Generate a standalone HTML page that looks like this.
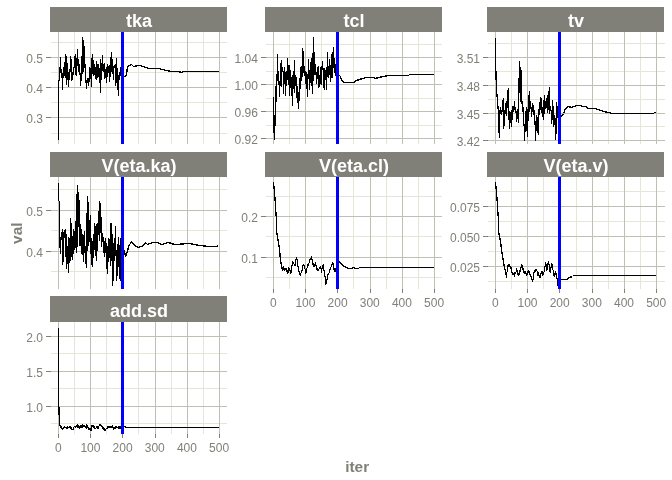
<!DOCTYPE html>
<html><head><meta charset="utf-8"><title>traceplot</title>
<style>html,body{margin:0;padding:0;background:#fff;overflow:hidden}</style></head>
<body>
<svg width="672" height="480" viewBox="0 0 672 480" style="display:block">
<rect width="672" height="480" fill="#fff"/>
<g shape-rendering="crispEdges">
<rect x="50" y="7" width="177" height="25.00" fill="#808078"/>
<line x1="50.50" x2="227.40" y1="133.50" y2="133.50" stroke="#E6E6D8" stroke-width="1"/>
<line x1="50.50" x2="227.40" y1="102.50" y2="102.50" stroke="#E6E6D8" stroke-width="1"/>
<line x1="50.50" x2="227.40" y1="72.50" y2="72.50" stroke="#E6E6D8" stroke-width="1"/>
<line x1="50.50" x2="227.40" y1="42.50" y2="42.50" stroke="#E6E6D8" stroke-width="1"/>
<line x1="74.50" x2="74.50" y1="32.00" y2="144.00" stroke="#E6E6D8" stroke-width="1"/>
<line x1="106.50" x2="106.50" y1="32.00" y2="144.00" stroke="#E6E6D8" stroke-width="1"/>
<line x1="138.50" x2="138.50" y1="32.00" y2="144.00" stroke="#E6E6D8" stroke-width="1"/>
<line x1="171.50" x2="171.50" y1="32.00" y2="144.00" stroke="#E6E6D8" stroke-width="1"/>
<line x1="203.50" x2="203.50" y1="32.00" y2="144.00" stroke="#E6E6D8" stroke-width="1"/>
<line x1="50.50" x2="227.40" y1="117.50" y2="117.50" stroke="#BFBFB4" stroke-width="1"/>
<line x1="50.50" x2="227.40" y1="87.50" y2="87.50" stroke="#BFBFB4" stroke-width="1"/>
<line x1="50.50" x2="227.40" y1="57.50" y2="57.50" stroke="#BFBFB4" stroke-width="1"/>
<line x1="58.50" x2="58.50" y1="32.00" y2="144.00" stroke="#BFBFB4" stroke-width="1"/>
<line x1="90.50" x2="90.50" y1="32.00" y2="144.00" stroke="#BFBFB4" stroke-width="1"/>
<line x1="122.50" x2="122.50" y1="32.00" y2="144.00" stroke="#BFBFB4" stroke-width="1"/>
<line x1="155.50" x2="155.50" y1="32.00" y2="144.00" stroke="#BFBFB4" stroke-width="1"/>
<line x1="187.50" x2="187.50" y1="32.00" y2="144.00" stroke="#BFBFB4" stroke-width="1"/>
<line x1="219.50" x2="219.50" y1="32.00" y2="144.00" stroke="#BFBFB4" stroke-width="1"/>
<line x1="46.00" x2="50.50" y1="117.50" y2="117.50" stroke="#808078" stroke-width="1"/>
<line x1="46.00" x2="50.50" y1="87.50" y2="87.50" stroke="#808078" stroke-width="1"/>
<line x1="46.00" x2="50.50" y1="57.50" y2="57.50" stroke="#808078" stroke-width="1"/>
<polyline points="58.5,139.5 58.5,80.5 59.5,80.5 59.5,73.5 60.5,63.5 60.5,57.5 60.5,64.5 61.5,77.5 61.5,71.5 61.5,70.5 62.5,77.5 62.5,89.5 62.5,80.5 63.5,74.5 63.5,67.5 63.5,76.5 64.5,62.5 64.5,66.5 64.5,72.5 64.5,75.5 65.5,65.5 65.5,54.5 65.5,66.5 66.5,84.5 66.5,56.5 66.5,61.5 67.5,66.5 67.5,79.5 67.5,69.5 68.5,77.5 68.5,86.5 68.5,82.5 69.5,76.5 69.5,70.5 69.5,75.5 70.5,66.5 70.5,56.5 70.5,58.5 71.5,61.5 71.5,60.5 71.5,80.5 72.5,77.5 72.5,75.5 72.5,72.5 73.5,74.5 73.5,71.5 73.5,68.5 74.5,66.5 74.5,61.5 74.5,58.5 75.5,54.5 75.5,74.5 75.5,65.5 76.5,59.5 76.5,66.5 76.5,75.5 77.5,49.5 77.5,57.5 77.5,59.5 78.5,59.5 78.5,71.5 78.5,68.5 79.5,67.5 79.5,64.5 79.5,74.5 80.5,73.5 80.5,81.5 80.5,85.5 81.5,72.5 81.5,56.5 81.5,68.5 82.5,73.5 82.5,50.5 82.5,37.5 82.5,51.5 83.5,71.5 83.5,40.5 83.5,45.5 84.5,48.5 84.5,58.5 84.5,60.5 85.5,71.5 85.5,77.5 85.5,81.5 86.5,83.5 86.5,88.5 86.5,83.5 87.5,78.5 87.5,81.5 87.5,82.5 88.5,83.5 88.5,85.5 88.5,82.5 89.5,76.5 89.5,67.5 89.5,81.5 90.5,75.5 90.5,73.5 90.5,74.5 91.5,65.5 91.5,86.5 91.5,79.5 91.5,66.5 92.5,54.5 92.5,73.5 92.5,68.5 93.5,65.5 93.5,60.5 93.5,75.5 94.5,74.5 94.5,69.5 94.5,64.5 95.5,70.5 95.5,71.5 95.5,76.5 96.5,79.5 96.5,61.5 96.5,63.5 97.5,64.5 97.5,65.5 97.5,77.5 98.5,75.5 98.5,66.5 98.5,64.5 99.5,73.5 99.5,82.5 99.5,75.5 100.5,65.5 100.5,59.5 100.5,92.5 100.5,77.5 101.5,65.5 101.5,74.5 101.5,79.5 102.5,55.5 102.5,63.5 103.5,65.5 103.5,71.5 103.5,69.5 104.5,64.5 104.5,63.5 104.5,78.5 105.5,76.5 105.5,69.5 105.5,74.5 106.5,78.5 106.5,82.5 106.5,71.5 107.5,64.5 107.5,70.5 107.5,76.5 108.5,67.5 108.5,66.5 109.5,65.5 109.5,81.5 109.5,75.5 110.5,68.5 110.5,61.5 110.5,76.5 110.5,65.5 111.5,52.5 111.5,57.5 111.5,69.5 112.5,73.5 112.5,59.5 112.5,64.5 113.5,69.5 113.5,79.5 113.5,68.5 114.5,67.5 114.5,66.5 114.5,65.5 115.5,64.5 115.5,85.5 115.5,75.5 116.5,68.5 116.5,58.5 116.5,70.5 117.5,89.5 117.5,68.5 117.5,77.5 118.5,89.5 118.5,95.5 118.5,75.5 119.5,78.5 119.5,79.5 119.5,72.5 119.5,74.5 120.5,75.5 120.5,67.5 120.5,69.5 121.5,70.5 121.5,72.5 121.5,74.5 122.5,75.5 122.5,76.5 124.5,76.5 126.5,75.5 127.5,66.5 131.5,64.5 133.5,66.5 139.5,65.5 143.5,66.5 148.5,68.5 158.5,68.5 166.5,70.5 171.5,71.5 178.5,71.5 181.5,72.5 183.5,71.5 218.5,71.5" fill="none" stroke="#000" stroke-width="1.3" stroke-linejoin="round"/>
<line x1="122.50" x2="122.50" y1="32.00" y2="144.00" stroke="#0000FF" stroke-width="3"/>
</g>
<text x="138.95" y="27.10" text-anchor="middle" font-family="Liberation Sans, Arial, sans-serif" font-weight="bold" font-size="18" fill="#fff">tka</text>
<text x="42.90" y="122.50" text-anchor="end" font-family="Liberation Sans, Arial, sans-serif" font-size="12" fill="#808078">0.3</text>
<text x="42.90" y="92.50" text-anchor="end" font-family="Liberation Sans, Arial, sans-serif" font-size="12" fill="#808078">0.4</text>
<text x="42.90" y="62.50" text-anchor="end" font-family="Liberation Sans, Arial, sans-serif" font-size="12" fill="#808078">0.5</text>
<g shape-rendering="crispEdges">
<rect x="265" y="7" width="177" height="25.00" fill="#808078"/>
<line x1="265.50" x2="442.40" y1="125.50" y2="125.50" stroke="#E6E6D8" stroke-width="1"/>
<line x1="265.50" x2="442.40" y1="98.50" y2="98.50" stroke="#E6E6D8" stroke-width="1"/>
<line x1="265.50" x2="442.40" y1="71.50" y2="71.50" stroke="#E6E6D8" stroke-width="1"/>
<line x1="265.50" x2="442.40" y1="44.50" y2="44.50" stroke="#E6E6D8" stroke-width="1"/>
<line x1="289.50" x2="289.50" y1="32.00" y2="144.00" stroke="#E6E6D8" stroke-width="1"/>
<line x1="321.50" x2="321.50" y1="32.00" y2="144.00" stroke="#E6E6D8" stroke-width="1"/>
<line x1="353.50" x2="353.50" y1="32.00" y2="144.00" stroke="#E6E6D8" stroke-width="1"/>
<line x1="386.50" x2="386.50" y1="32.00" y2="144.00" stroke="#E6E6D8" stroke-width="1"/>
<line x1="418.50" x2="418.50" y1="32.00" y2="144.00" stroke="#E6E6D8" stroke-width="1"/>
<line x1="265.50" x2="442.40" y1="138.50" y2="138.50" stroke="#BFBFB4" stroke-width="1"/>
<line x1="265.50" x2="442.40" y1="111.50" y2="111.50" stroke="#BFBFB4" stroke-width="1"/>
<line x1="265.50" x2="442.40" y1="84.50" y2="84.50" stroke="#BFBFB4" stroke-width="1"/>
<line x1="265.50" x2="442.40" y1="57.50" y2="57.50" stroke="#BFBFB4" stroke-width="1"/>
<line x1="273.50" x2="273.50" y1="32.00" y2="144.00" stroke="#BFBFB4" stroke-width="1"/>
<line x1="305.50" x2="305.50" y1="32.00" y2="144.00" stroke="#BFBFB4" stroke-width="1"/>
<line x1="337.50" x2="337.50" y1="32.00" y2="144.00" stroke="#BFBFB4" stroke-width="1"/>
<line x1="370.50" x2="370.50" y1="32.00" y2="144.00" stroke="#BFBFB4" stroke-width="1"/>
<line x1="402.50" x2="402.50" y1="32.00" y2="144.00" stroke="#BFBFB4" stroke-width="1"/>
<line x1="434.50" x2="434.50" y1="32.00" y2="144.00" stroke="#BFBFB4" stroke-width="1"/>
<line x1="261.00" x2="265.50" y1="138.50" y2="138.50" stroke="#808078" stroke-width="1"/>
<line x1="261.00" x2="265.50" y1="111.50" y2="111.50" stroke="#808078" stroke-width="1"/>
<line x1="261.00" x2="265.50" y1="84.50" y2="84.50" stroke="#808078" stroke-width="1"/>
<line x1="261.00" x2="265.50" y1="57.50" y2="57.50" stroke="#808078" stroke-width="1"/>
<polyline points="273.5,96.5 273.5,118.5 274.5,139.5 275.5,102.5 275.5,86.5 276.5,101.5 276.5,88.5 276.5,82.5 277.5,69.5 277.5,54.5 277.5,80.5 278.5,72.5 278.5,71.5 278.5,77.5 279.5,88.5 279.5,96.5 279.5,89.5 279.5,81.5 280.5,85.5 280.5,71.5 280.5,67.5 281.5,60.5 281.5,86.5 281.5,74.5 282.5,67.5 282.5,68.5 282.5,70.5 283.5,71.5 283.5,93.5 283.5,86.5 284.5,78.5 284.5,67.5 284.5,75.5 285.5,72.5 285.5,95.5 285.5,90.5 286.5,77.5 286.5,71.5 286.5,85.5 287.5,70.5 287.5,58.5 287.5,68.5 288.5,84.5 288.5,65.5 288.5,66.5 288.5,71.5 289.5,65.5 289.5,95.5 289.5,89.5 290.5,73.5 290.5,70.5 290.5,87.5 291.5,81.5 291.5,78.5 291.5,77.5 292.5,105.5 292.5,95.5 292.5,82.5 293.5,71.5 293.5,88.5 293.5,79.5 294.5,75.5 294.5,60.5 294.5,92.5 295.5,75.5 295.5,76.5 295.5,77.5 296.5,81.5 296.5,77.5 296.5,97.5 297.5,94.5 297.5,88.5 297.5,86.5 297.5,92.5 298.5,108.5 298.5,99.5 298.5,92.5 299.5,92.5 299.5,86.5 299.5,100.5 300.5,67.5 300.5,86.5 300.5,82.5 301.5,78.5 301.5,71.5 301.5,66.5 302.5,76.5 302.5,48.5 302.5,50.5 303.5,51.5 303.5,52.5 303.5,68.5 304.5,75.5 304.5,66.5 304.5,70.5 305.5,72.5 305.5,74.5 305.5,80.5 306.5,85.5 306.5,82.5 306.5,76.5 306.5,72.5 307.5,96.5 307.5,82.5 307.5,77.5 308.5,72.5 308.5,66.5 308.5,59.5 309.5,89.5 309.5,85.5 309.5,84.5 310.5,80.5 310.5,69.5 311.5,58.5 311.5,66.5 311.5,76.5 312.5,90.5 312.5,93.5 312.5,55.5 313.5,52.5 313.5,37.5 313.5,80.5 314.5,64.5 314.5,52.5 314.5,62.5 315.5,67.5 315.5,74.5 315.5,73.5 316.5,72.5 316.5,78.5 316.5,83.5 317.5,71.5 317.5,70.5 317.5,69.5 318.5,66.5 318.5,87.5 318.5,82.5 319.5,81.5 319.5,75.5 319.5,86.5 320.5,79.5 320.5,67.5 320.5,80.5 321.5,72.5 321.5,84.5 321.5,74.5 322.5,61.5 322.5,64.5 322.5,67.5 323.5,69.5 323.5,78.5 323.5,83.5 324.5,89.5 324.5,68.5 324.5,69.5 325.5,71.5 325.5,70.5 325.5,75.5 326.5,81.5 326.5,89.5 326.5,71.5 327.5,65.5 327.5,52.5 327.5,76.5 328.5,66.5 328.5,77.5 328.5,73.5 329.5,74.5 329.5,59.5 329.5,64.5 330.5,65.5 330.5,66.5 330.5,81.5 331.5,72.5 331.5,69.5 331.5,57.5 332.5,52.5 332.5,77.5 332.5,67.5 333.5,55.5 333.5,47.5 333.5,60.5 334.5,72.5 334.5,58.5 334.5,63.5 334.5,68.5 335.5,75.5 335.5,64.5 335.5,66.5 336.5,65.5 336.5,66.5 336.5,67.5 337.5,67.5 337.5,76.5 339.5,75.5 340.5,76.5 341.5,80.5 344.5,82.5 353.5,82.5 356.5,80.5 362.5,78.5 366.5,77.5 373.5,77.5 375.5,78.5 378.5,77.5 383.5,76.5 389.5,75.5 408.5,75.5 409.5,74.5 410.5,74.5 433.5,74.5" fill="none" stroke="#000" stroke-width="1.3" stroke-linejoin="round"/>
<line x1="337.50" x2="337.50" y1="32.00" y2="144.00" stroke="#0000FF" stroke-width="3"/>
</g>
<text x="353.95" y="27.10" text-anchor="middle" font-family="Liberation Sans, Arial, sans-serif" font-weight="bold" font-size="18" fill="#fff">tcl</text>
<text x="257.90" y="143.50" text-anchor="end" font-family="Liberation Sans, Arial, sans-serif" font-size="12" fill="#808078">0.92</text>
<text x="257.90" y="116.50" text-anchor="end" font-family="Liberation Sans, Arial, sans-serif" font-size="12" fill="#808078">0.96</text>
<text x="257.90" y="89.50" text-anchor="end" font-family="Liberation Sans, Arial, sans-serif" font-size="12" fill="#808078">1.00</text>
<text x="257.90" y="62.50" text-anchor="end" font-family="Liberation Sans, Arial, sans-serif" font-size="12" fill="#808078">1.04</text>
<g shape-rendering="crispEdges">
<rect x="487" y="7" width="177" height="25.00" fill="#808078"/>
<line x1="487.60" x2="664.50" y1="126.50" y2="126.50" stroke="#E6E6D8" stroke-width="1"/>
<line x1="487.60" x2="664.50" y1="99.50" y2="99.50" stroke="#E6E6D8" stroke-width="1"/>
<line x1="487.60" x2="664.50" y1="71.50" y2="71.50" stroke="#E6E6D8" stroke-width="1"/>
<line x1="487.60" x2="664.50" y1="43.50" y2="43.50" stroke="#E6E6D8" stroke-width="1"/>
<line x1="511.50" x2="511.50" y1="32.00" y2="144.00" stroke="#E6E6D8" stroke-width="1"/>
<line x1="543.50" x2="543.50" y1="32.00" y2="144.00" stroke="#E6E6D8" stroke-width="1"/>
<line x1="576.50" x2="576.50" y1="32.00" y2="144.00" stroke="#E6E6D8" stroke-width="1"/>
<line x1="608.50" x2="608.50" y1="32.00" y2="144.00" stroke="#E6E6D8" stroke-width="1"/>
<line x1="640.50" x2="640.50" y1="32.00" y2="144.00" stroke="#E6E6D8" stroke-width="1"/>
<line x1="487.60" x2="664.50" y1="140.50" y2="140.50" stroke="#BFBFB4" stroke-width="1"/>
<line x1="487.60" x2="664.50" y1="113.50" y2="113.50" stroke="#BFBFB4" stroke-width="1"/>
<line x1="487.60" x2="664.50" y1="85.50" y2="85.50" stroke="#BFBFB4" stroke-width="1"/>
<line x1="487.60" x2="664.50" y1="57.50" y2="57.50" stroke="#BFBFB4" stroke-width="1"/>
<line x1="495.50" x2="495.50" y1="32.00" y2="144.00" stroke="#BFBFB4" stroke-width="1"/>
<line x1="527.50" x2="527.50" y1="32.00" y2="144.00" stroke="#BFBFB4" stroke-width="1"/>
<line x1="559.50" x2="559.50" y1="32.00" y2="144.00" stroke="#BFBFB4" stroke-width="1"/>
<line x1="592.50" x2="592.50" y1="32.00" y2="144.00" stroke="#BFBFB4" stroke-width="1"/>
<line x1="624.50" x2="624.50" y1="32.00" y2="144.00" stroke="#BFBFB4" stroke-width="1"/>
<line x1="656.50" x2="656.50" y1="32.00" y2="144.00" stroke="#BFBFB4" stroke-width="1"/>
<line x1="483.00" x2="487.60" y1="140.50" y2="140.50" stroke="#808078" stroke-width="1"/>
<line x1="483.00" x2="487.60" y1="113.50" y2="113.50" stroke="#808078" stroke-width="1"/>
<line x1="483.00" x2="487.60" y1="85.50" y2="85.50" stroke="#808078" stroke-width="1"/>
<line x1="483.00" x2="487.60" y1="57.50" y2="57.50" stroke="#808078" stroke-width="1"/>
<polyline points="495.5,37.5 495.5,60.5 496.5,89.5 498.5,113.5 498.5,125.5 499.5,137.5 499.5,111.5 499.5,110.5 500.5,109.5 500.5,107.5 500.5,111.5 501.5,114.5 501.5,111.5 501.5,110.5 502.5,111.5 502.5,100.5 502.5,101.5 503.5,99.5 503.5,98.5 503.5,128.5 504.5,121.5 504.5,110.5 504.5,115.5 504.5,112.5 505.5,108.5 505.5,103.5 505.5,113.5 506.5,110.5 506.5,112.5 506.5,115.5 507.5,94.5 507.5,93.5 507.5,91.5 508.5,89.5 508.5,88.5 508.5,119.5 509.5,111.5 509.5,120.5 509.5,128.5 510.5,113.5 510.5,114.5 510.5,116.5 511.5,110.5 511.5,126.5 511.5,123.5 512.5,113.5 512.5,115.5 512.5,106.5 513.5,106.5 513.5,110.5 513.5,109.5 513.5,111.5 514.5,106.5 514.5,101.5 514.5,107.5 515.5,111.5 515.5,107.5 515.5,110.5 516.5,113.5 516.5,118.5 516.5,121.5 517.5,109.5 517.5,113.5 517.5,112.5 518.5,122.5 518.5,88.5 518.5,111.5 519.5,61.5 519.5,72.5 519.5,75.5 520.5,87.5 520.5,101.5 520.5,67.5 521.5,74.5 521.5,77.5 521.5,103.5 522.5,101.5 522.5,106.5 522.5,111.5 522.5,109.5 523.5,111.5 523.5,107.5 523.5,121.5 524.5,127.5 524.5,132.5 524.5,140.5 525.5,116.5 525.5,115.5 525.5,112.5 526.5,110.5 526.5,107.5 526.5,130.5 527.5,126.5 527.5,128.5 527.5,136.5 528.5,95.5 528.5,107.5 528.5,105.5 529.5,111.5 529.5,91.5 529.5,98.5 530.5,106.5 530.5,102.5 530.5,105.5 531.5,110.5 531.5,113.5 531.5,116.5 531.5,107.5 532.5,110.5 532.5,111.5 532.5,103.5 533.5,107.5 533.5,112.5 533.5,114.5 534.5,110.5 534.5,117.5 534.5,124.5 535.5,121.5 535.5,131.5 535.5,140.5 536.5,115.5 536.5,116.5 536.5,117.5 537.5,117.5 537.5,130.5 537.5,128.5 538.5,134.5 538.5,120.5 538.5,109.5 539.5,110.5 539.5,114.5 539.5,106.5 540.5,99.5 540.5,106.5 540.5,109.5 540.5,97.5 541.5,100.5 541.5,105.5 541.5,106.5 542.5,116.5 542.5,113.5 542.5,107.5 543.5,115.5 543.5,119.5 543.5,109.5 544.5,95.5 544.5,103.5 544.5,113.5 545.5,101.5 545.5,104.5 546.5,107.5 546.5,98.5 546.5,100.5 547.5,101.5 547.5,112.5 547.5,103.5 548.5,91.5 548.5,105.5 548.5,109.5 549.5,95.5 549.5,87.5 549.5,104.5 549.5,113.5 550.5,106.5 550.5,108.5 550.5,109.5 551.5,110.5 551.5,121.5 551.5,123.5 552.5,112.5 552.5,100.5 552.5,105.5 553.5,108.5 553.5,111.5 553.5,126.5 554.5,122.5 554.5,116.5 554.5,115.5 555.5,123.5 555.5,134.5 555.5,139.5 556.5,123.5 556.5,102.5 556.5,116.5 557.5,112.5 557.5,106.5 557.5,117.5 558.5,116.5 558.5,115.5 559.5,115.5 559.5,114.5 559.5,117.5 561.5,116.5 563.5,113.5 565.5,108.5 568.5,106.5 571.5,107.5 576.5,105.5 580.5,105.5 582.5,106.5 585.5,106.5 588.5,108.5 595.5,108.5 603.5,111.5 612.5,113.5 653.5,113.5 654.5,112.5 655.5,112.5" fill="none" stroke="#000" stroke-width="1.3" stroke-linejoin="round"/>
<line x1="559.50" x2="559.50" y1="32.00" y2="144.00" stroke="#0000FF" stroke-width="3"/>
</g>
<text x="576.05" y="27.10" text-anchor="middle" font-family="Liberation Sans, Arial, sans-serif" font-weight="bold" font-size="18" fill="#fff">tv</text>
<text x="480.00" y="145.50" text-anchor="end" font-family="Liberation Sans, Arial, sans-serif" font-size="12" fill="#808078">3.42</text>
<text x="480.00" y="118.50" text-anchor="end" font-family="Liberation Sans, Arial, sans-serif" font-size="12" fill="#808078">3.45</text>
<text x="480.00" y="90.50" text-anchor="end" font-family="Liberation Sans, Arial, sans-serif" font-size="12" fill="#808078">3.48</text>
<text x="480.00" y="62.50" text-anchor="end" font-family="Liberation Sans, Arial, sans-serif" font-size="12" fill="#808078">3.51</text>
<g shape-rendering="crispEdges">
<rect x="50" y="152" width="177" height="25.00" fill="#808078"/>
<line x1="50.50" x2="227.40" y1="271.50" y2="271.50" stroke="#E6E6D8" stroke-width="1"/>
<line x1="50.50" x2="227.40" y1="230.50" y2="230.50" stroke="#E6E6D8" stroke-width="1"/>
<line x1="50.50" x2="227.40" y1="189.50" y2="189.50" stroke="#E6E6D8" stroke-width="1"/>
<line x1="74.50" x2="74.50" y1="177.00" y2="289.00" stroke="#E6E6D8" stroke-width="1"/>
<line x1="106.50" x2="106.50" y1="177.00" y2="289.00" stroke="#E6E6D8" stroke-width="1"/>
<line x1="138.50" x2="138.50" y1="177.00" y2="289.00" stroke="#E6E6D8" stroke-width="1"/>
<line x1="171.50" x2="171.50" y1="177.00" y2="289.00" stroke="#E6E6D8" stroke-width="1"/>
<line x1="203.50" x2="203.50" y1="177.00" y2="289.00" stroke="#E6E6D8" stroke-width="1"/>
<line x1="50.50" x2="227.40" y1="251.50" y2="251.50" stroke="#BFBFB4" stroke-width="1"/>
<line x1="50.50" x2="227.40" y1="210.50" y2="210.50" stroke="#BFBFB4" stroke-width="1"/>
<line x1="58.50" x2="58.50" y1="177.00" y2="289.00" stroke="#BFBFB4" stroke-width="1"/>
<line x1="90.50" x2="90.50" y1="177.00" y2="289.00" stroke="#BFBFB4" stroke-width="1"/>
<line x1="122.50" x2="122.50" y1="177.00" y2="289.00" stroke="#BFBFB4" stroke-width="1"/>
<line x1="155.50" x2="155.50" y1="177.00" y2="289.00" stroke="#BFBFB4" stroke-width="1"/>
<line x1="187.50" x2="187.50" y1="177.00" y2="289.00" stroke="#BFBFB4" stroke-width="1"/>
<line x1="219.50" x2="219.50" y1="177.00" y2="289.00" stroke="#BFBFB4" stroke-width="1"/>
<line x1="46.00" x2="50.50" y1="251.50" y2="251.50" stroke="#808078" stroke-width="1"/>
<line x1="46.00" x2="50.50" y1="210.50" y2="210.50" stroke="#808078" stroke-width="1"/>
<polyline points="58.5,182.5 58.5,200.5 59.5,201.5 59.5,232.5 59.5,246.5 60.5,248.5 60.5,253.5 60.5,237.5 61.5,239.5 61.5,236.5 61.5,233.5 62.5,231.5 62.5,229.5 62.5,264.5 63.5,257.5 63.5,252.5 63.5,232.5 64.5,233.5 64.5,237.5 64.5,234.5 64.5,232.5 65.5,229.5 65.5,256.5 65.5,246.5 66.5,234.5 66.5,251.5 66.5,268.5 67.5,255.5 67.5,246.5 67.5,255.5 68.5,264.5 68.5,272.5 68.5,237.5 69.5,240.5 69.5,262.5 70.5,244.5 70.5,218.5 70.5,260.5 71.5,249.5 71.5,233.5 71.5,223.5 72.5,259.5 72.5,250.5 72.5,237.5 73.5,238.5 73.5,232.5 73.5,229.5 73.5,253.5 74.5,243.5 74.5,231.5 74.5,248.5 75.5,236.5 75.5,221.5 75.5,238.5 76.5,252.5 76.5,232.5 76.5,211.5 77.5,185.5 77.5,246.5 77.5,232.5 78.5,218.5 78.5,216.5 78.5,192.5 79.5,214.5 79.5,245.5 79.5,244.5 80.5,226.5 80.5,224.5 80.5,231.5 81.5,253.5 81.5,229.5 81.5,233.5 82.5,234.5 82.5,237.5 82.5,240.5 82.5,242.5 83.5,261.5 83.5,252.5 83.5,241.5 84.5,231.5 84.5,252.5 84.5,248.5 85.5,246.5 85.5,252.5 85.5,261.5 86.5,265.5 86.5,267.5 86.5,246.5 87.5,196.5 87.5,250.5 87.5,241.5 88.5,216.5 88.5,202.5 88.5,245.5 89.5,236.5 89.5,223.5 89.5,220.5 90.5,222.5 90.5,215.5 90.5,253.5 91.5,238.5 91.5,247.5 91.5,252.5 91.5,261.5 92.5,266.5 92.5,241.5 92.5,247.5 93.5,257.5 93.5,237.5 93.5,235.5 94.5,233.5 94.5,223.5 94.5,238.5 95.5,255.5 95.5,247.5 95.5,228.5 96.5,224.5 96.5,260.5 96.5,245.5 97.5,223.5 97.5,250.5 97.5,241.5 98.5,223.5 98.5,215.5 98.5,217.5 99.5,208.5 99.5,201.5 99.5,240.5 100.5,220.5 100.5,209.5 100.5,203.5 100.5,215.5 101.5,219.5 101.5,232.5 101.5,246.5 102.5,233.5 102.5,237.5 102.5,236.5 103.5,237.5 103.5,252.5 103.5,248.5 104.5,246.5 104.5,241.5 104.5,256.5 105.5,246.5 105.5,238.5 105.5,242.5 106.5,243.5 106.5,246.5 106.5,260.5 107.5,273.5 107.5,260.5 107.5,246.5 108.5,261.5 108.5,255.5 108.5,238.5 109.5,240.5 109.5,242.5 110.5,265.5 110.5,223.5 110.5,241.5 110.5,242.5 111.5,260.5 111.5,223.5 111.5,231.5 112.5,238.5 112.5,285.5 112.5,281.5 113.5,278.5 113.5,274.5 113.5,246.5 114.5,241.5 114.5,254.5 114.5,260.5 115.5,226.5 115.5,233.5 115.5,242.5 116.5,262.5 116.5,280.5 116.5,265.5 117.5,254.5 117.5,244.5 117.5,275.5 118.5,253.5 118.5,237.5 118.5,260.5 119.5,256.5 119.5,248.5 119.5,245.5 119.5,278.5 120.5,254.5 120.5,238.5 120.5,280.5 121.5,273.5 121.5,269.5 121.5,259.5 122.5,255.5 122.5,248.5 124.5,250.5 125.5,256.5 127.5,251.5 128.5,246.5 131.5,241.5 134.5,245.5 138.5,247.5 143.5,245.5 145.5,242.5 147.5,244.5 152.5,242.5 157.5,242.5 161.5,244.5 168.5,242.5 174.5,244.5 189.5,243.5 199.5,245.5 209.5,246.5 216.5,246.5 218.5,245.5" fill="none" stroke="#000" stroke-width="1.3" stroke-linejoin="round"/>
<line x1="122.50" x2="122.50" y1="177.00" y2="289.00" stroke="#0000FF" stroke-width="3"/>
</g>
<text x="138.95" y="172.10" text-anchor="middle" font-family="Liberation Sans, Arial, sans-serif" font-weight="bold" font-size="18" fill="#fff">V(eta.ka)</text>
<text x="42.90" y="256.50" text-anchor="end" font-family="Liberation Sans, Arial, sans-serif" font-size="12" fill="#808078">0.4</text>
<text x="42.90" y="215.50" text-anchor="end" font-family="Liberation Sans, Arial, sans-serif" font-size="12" fill="#808078">0.5</text>
<g shape-rendering="crispEdges">
<rect x="265" y="152" width="177" height="25.00" fill="#808078"/>
<line x1="265.50" x2="442.40" y1="277.50" y2="277.50" stroke="#E6E6D8" stroke-width="1"/>
<line x1="265.50" x2="442.40" y1="236.50" y2="236.50" stroke="#E6E6D8" stroke-width="1"/>
<line x1="265.50" x2="442.40" y1="196.50" y2="196.50" stroke="#E6E6D8" stroke-width="1"/>
<line x1="289.50" x2="289.50" y1="177.00" y2="289.00" stroke="#E6E6D8" stroke-width="1"/>
<line x1="321.50" x2="321.50" y1="177.00" y2="289.00" stroke="#E6E6D8" stroke-width="1"/>
<line x1="353.50" x2="353.50" y1="177.00" y2="289.00" stroke="#E6E6D8" stroke-width="1"/>
<line x1="386.50" x2="386.50" y1="177.00" y2="289.00" stroke="#E6E6D8" stroke-width="1"/>
<line x1="418.50" x2="418.50" y1="177.00" y2="289.00" stroke="#E6E6D8" stroke-width="1"/>
<line x1="265.50" x2="442.40" y1="257.50" y2="257.50" stroke="#BFBFB4" stroke-width="1"/>
<line x1="265.50" x2="442.40" y1="216.50" y2="216.50" stroke="#BFBFB4" stroke-width="1"/>
<line x1="273.50" x2="273.50" y1="177.00" y2="289.00" stroke="#BFBFB4" stroke-width="1"/>
<line x1="305.50" x2="305.50" y1="177.00" y2="289.00" stroke="#BFBFB4" stroke-width="1"/>
<line x1="337.50" x2="337.50" y1="177.00" y2="289.00" stroke="#BFBFB4" stroke-width="1"/>
<line x1="370.50" x2="370.50" y1="177.00" y2="289.00" stroke="#BFBFB4" stroke-width="1"/>
<line x1="402.50" x2="402.50" y1="177.00" y2="289.00" stroke="#BFBFB4" stroke-width="1"/>
<line x1="434.50" x2="434.50" y1="177.00" y2="289.00" stroke="#BFBFB4" stroke-width="1"/>
<line x1="261.00" x2="265.50" y1="257.50" y2="257.50" stroke="#808078" stroke-width="1"/>
<line x1="261.00" x2="265.50" y1="216.50" y2="216.50" stroke="#808078" stroke-width="1"/>
<line x1="273.50" x2="273.50" y1="289.00" y2="293.00" stroke="#808078" stroke-width="1"/>
<line x1="305.50" x2="305.50" y1="289.00" y2="293.00" stroke="#808078" stroke-width="1"/>
<line x1="337.50" x2="337.50" y1="289.00" y2="293.00" stroke="#808078" stroke-width="1"/>
<line x1="370.50" x2="370.50" y1="289.00" y2="293.00" stroke="#808078" stroke-width="1"/>
<line x1="402.50" x2="402.50" y1="289.00" y2="293.00" stroke="#808078" stroke-width="1"/>
<line x1="434.50" x2="434.50" y1="289.00" y2="293.00" stroke="#808078" stroke-width="1"/>
<polyline points="273.5,182.5 274.5,191.5 275.5,206.5 276.5,220.5 276.5,230.5 277.5,236.5 279.5,248.5 280.5,260.5 282.5,270.5 283.5,267.5 283.5,266.5 283.5,267.5 284.5,270.5 284.5,268.5 285.5,269.5 285.5,268.5 285.5,269.5 286.5,268.5 286.5,270.5 286.5,271.5 287.5,270.5 287.5,273.5 287.5,272.5 288.5,272.5 288.5,269.5 288.5,267.5 288.5,268.5 289.5,268.5 289.5,270.5 289.5,269.5 290.5,271.5 290.5,272.5 290.5,273.5 291.5,270.5 291.5,267.5 291.5,266.5 292.5,264.5 292.5,263.5 292.5,261.5 293.5,262.5 293.5,263.5 294.5,264.5 294.5,265.5 295.5,265.5 295.5,260.5 296.5,258.5 296.5,257.5 296.5,258.5 297.5,259.5 297.5,263.5 297.5,264.5 297.5,266.5 298.5,266.5 298.5,268.5 298.5,270.5 299.5,272.5 299.5,271.5 299.5,272.5 300.5,275.5 300.5,273.5 301.5,272.5 301.5,270.5 302.5,270.5 302.5,267.5 302.5,265.5 303.5,265.5 303.5,264.5 304.5,266.5 304.5,267.5 304.5,268.5 305.5,269.5 305.5,271.5 305.5,273.5 306.5,271.5 306.5,269.5 306.5,268.5 307.5,267.5 307.5,264.5 307.5,265.5 308.5,265.5 308.5,263.5 309.5,262.5 309.5,259.5 309.5,260.5 310.5,259.5 310.5,258.5 311.5,258.5 311.5,256.5 311.5,258.5 312.5,260.5 312.5,259.5 312.5,264.5 313.5,263.5 313.5,266.5 313.5,265.5 314.5,265.5 314.5,264.5 314.5,266.5 315.5,264.5 315.5,262.5 315.5,263.5 315.5,264.5 316.5,266.5 316.5,269.5 317.5,268.5 317.5,270.5 318.5,269.5 318.5,270.5 318.5,269.5 319.5,268.5 320.5,266.5 320.5,268.5 320.5,267.5 321.5,269.5 321.5,272.5 321.5,269.5 322.5,268.5 322.5,267.5 322.5,265.5 323.5,264.5 323.5,269.5 324.5,271.5 324.5,272.5 324.5,275.5 325.5,277.5 325.5,280.5 325.5,281.5 325.5,284.5 326.5,283.5 326.5,280.5 326.5,279.5 327.5,279.5 327.5,277.5 327.5,275.5 328.5,273.5 329.5,272.5 329.5,270.5 330.5,268.5 330.5,267.5 331.5,266.5 331.5,265.5 332.5,263.5 332.5,262.5 333.5,263.5 333.5,266.5 333.5,269.5 334.5,269.5 334.5,268.5 334.5,270.5 334.5,271.5 335.5,269.5 335.5,271.5 335.5,268.5 336.5,269.5 336.5,267.5 336.5,265.5 337.5,265.5 337.5,261.5 339.5,261.5 341.5,264.5 344.5,266.5 348.5,268.5 351.5,268.5 353.5,267.5 355.5,268.5 358.5,268.5 359.5,267.5 433.5,267.5" fill="none" stroke="#000" stroke-width="1.3" stroke-linejoin="round"/>
<line x1="337.50" x2="337.50" y1="177.00" y2="289.00" stroke="#0000FF" stroke-width="3"/>
</g>
<text x="353.95" y="172.10" text-anchor="middle" font-family="Liberation Sans, Arial, sans-serif" font-weight="bold" font-size="18" fill="#fff">V(eta.cl)</text>
<text x="257.90" y="262.50" text-anchor="end" font-family="Liberation Sans, Arial, sans-serif" font-size="12" fill="#808078">0.1</text>
<text x="257.90" y="221.50" text-anchor="end" font-family="Liberation Sans, Arial, sans-serif" font-size="12" fill="#808078">0.2</text>
<text x="273.24" y="307.00" text-anchor="middle" font-family="Liberation Sans, Arial, sans-serif" font-size="12" fill="#808078">0</text>
<text x="305.40" y="307.00" text-anchor="middle" font-family="Liberation Sans, Arial, sans-serif" font-size="12" fill="#808078">100</text>
<text x="337.57" y="307.00" text-anchor="middle" font-family="Liberation Sans, Arial, sans-serif" font-size="12" fill="#808078">200</text>
<text x="369.73" y="307.00" text-anchor="middle" font-family="Liberation Sans, Arial, sans-serif" font-size="12" fill="#808078">300</text>
<text x="401.90" y="307.00" text-anchor="middle" font-family="Liberation Sans, Arial, sans-serif" font-size="12" fill="#808078">400</text>
<text x="434.06" y="307.00" text-anchor="middle" font-family="Liberation Sans, Arial, sans-serif" font-size="12" fill="#808078">500</text>
<g shape-rendering="crispEdges">
<rect x="487" y="152" width="177" height="25.00" fill="#808078"/>
<line x1="487.60" x2="664.50" y1="281.50" y2="281.50" stroke="#E6E6D8" stroke-width="1"/>
<line x1="487.60" x2="664.50" y1="251.50" y2="251.50" stroke="#E6E6D8" stroke-width="1"/>
<line x1="487.60" x2="664.50" y1="221.50" y2="221.50" stroke="#E6E6D8" stroke-width="1"/>
<line x1="487.60" x2="664.50" y1="191.50" y2="191.50" stroke="#E6E6D8" stroke-width="1"/>
<line x1="511.50" x2="511.50" y1="177.00" y2="289.00" stroke="#E6E6D8" stroke-width="1"/>
<line x1="543.50" x2="543.50" y1="177.00" y2="289.00" stroke="#E6E6D8" stroke-width="1"/>
<line x1="576.50" x2="576.50" y1="177.00" y2="289.00" stroke="#E6E6D8" stroke-width="1"/>
<line x1="608.50" x2="608.50" y1="177.00" y2="289.00" stroke="#E6E6D8" stroke-width="1"/>
<line x1="640.50" x2="640.50" y1="177.00" y2="289.00" stroke="#E6E6D8" stroke-width="1"/>
<line x1="487.60" x2="664.50" y1="266.50" y2="266.50" stroke="#BFBFB4" stroke-width="1"/>
<line x1="487.60" x2="664.50" y1="236.50" y2="236.50" stroke="#BFBFB4" stroke-width="1"/>
<line x1="487.60" x2="664.50" y1="206.50" y2="206.50" stroke="#BFBFB4" stroke-width="1"/>
<line x1="495.50" x2="495.50" y1="177.00" y2="289.00" stroke="#BFBFB4" stroke-width="1"/>
<line x1="527.50" x2="527.50" y1="177.00" y2="289.00" stroke="#BFBFB4" stroke-width="1"/>
<line x1="559.50" x2="559.50" y1="177.00" y2="289.00" stroke="#BFBFB4" stroke-width="1"/>
<line x1="592.50" x2="592.50" y1="177.00" y2="289.00" stroke="#BFBFB4" stroke-width="1"/>
<line x1="624.50" x2="624.50" y1="177.00" y2="289.00" stroke="#BFBFB4" stroke-width="1"/>
<line x1="656.50" x2="656.50" y1="177.00" y2="289.00" stroke="#BFBFB4" stroke-width="1"/>
<line x1="483.00" x2="487.60" y1="266.50" y2="266.50" stroke="#808078" stroke-width="1"/>
<line x1="483.00" x2="487.60" y1="236.50" y2="236.50" stroke="#808078" stroke-width="1"/>
<line x1="483.00" x2="487.60" y1="206.50" y2="206.50" stroke="#808078" stroke-width="1"/>
<line x1="495.50" x2="495.50" y1="289.00" y2="293.00" stroke="#808078" stroke-width="1"/>
<line x1="527.50" x2="527.50" y1="289.00" y2="293.00" stroke="#808078" stroke-width="1"/>
<line x1="559.50" x2="559.50" y1="289.00" y2="293.00" stroke="#808078" stroke-width="1"/>
<line x1="592.50" x2="592.50" y1="289.00" y2="293.00" stroke="#808078" stroke-width="1"/>
<line x1="624.50" x2="624.50" y1="289.00" y2="293.00" stroke="#808078" stroke-width="1"/>
<line x1="656.50" x2="656.50" y1="289.00" y2="293.00" stroke="#808078" stroke-width="1"/>
<polyline points="495.5,182.5 496.5,191.5 497.5,206.5 498.5,220.5 498.5,230.5 499.5,237.5 500.5,240.5 501.5,249.5 503.5,262.5 505.5,271.5 506.5,276.5 506.5,277.5 506.5,272.5 507.5,271.5 507.5,268.5 507.5,267.5 508.5,264.5 509.5,264.5 509.5,265.5 509.5,266.5 510.5,266.5 510.5,268.5 511.5,268.5 511.5,267.5 511.5,272.5 512.5,272.5 512.5,274.5 513.5,274.5 513.5,273.5 513.5,274.5 514.5,273.5 514.5,276.5 514.5,272.5 515.5,273.5 515.5,272.5 516.5,271.5 516.5,268.5 517.5,272.5 517.5,273.5 518.5,275.5 518.5,273.5 518.5,275.5 519.5,274.5 519.5,271.5 520.5,269.5 520.5,271.5 520.5,268.5 521.5,266.5 521.5,265.5 521.5,264.5 522.5,265.5 522.5,267.5 522.5,266.5 522.5,269.5 523.5,268.5 523.5,270.5 524.5,273.5 524.5,272.5 525.5,271.5 525.5,272.5 525.5,273.5 526.5,273.5 526.5,274.5 526.5,275.5 527.5,274.5 527.5,272.5 528.5,270.5 528.5,271.5 528.5,270.5 529.5,273.5 529.5,272.5 529.5,273.5 530.5,275.5 531.5,277.5 531.5,278.5 531.5,276.5 531.5,279.5 532.5,280.5 532.5,281.5 533.5,277.5 533.5,275.5 533.5,272.5 534.5,272.5 534.5,271.5 534.5,270.5 535.5,269.5 535.5,270.5 535.5,271.5 536.5,269.5 536.5,270.5 537.5,271.5 537.5,273.5 537.5,275.5 538.5,272.5 538.5,275.5 539.5,275.5 539.5,276.5 539.5,277.5 540.5,277.5 540.5,275.5 540.5,273.5 541.5,273.5 541.5,271.5 542.5,271.5 542.5,273.5 542.5,275.5 543.5,274.5 543.5,273.5 543.5,272.5 544.5,271.5 544.5,268.5 545.5,264.5 545.5,262.5 545.5,263.5 546.5,266.5 546.5,269.5 546.5,270.5 547.5,268.5 547.5,264.5 547.5,265.5 548.5,261.5 548.5,264.5 548.5,263.5 549.5,265.5 549.5,267.5 549.5,268.5 549.5,269.5 550.5,272.5 550.5,270.5 550.5,268.5 551.5,266.5 551.5,264.5 551.5,263.5 552.5,265.5 552.5,267.5 552.5,269.5 553.5,270.5 553.5,272.5 553.5,274.5 554.5,276.5 554.5,274.5 554.5,273.5 555.5,272.5 555.5,271.5 555.5,272.5 556.5,275.5 556.5,277.5 556.5,276.5 557.5,280.5 557.5,285.5 557.5,283.5 558.5,278.5 558.5,273.5 558.5,272.5 559.5,276.5 559.5,278.5 559.5,279.5 561.5,279.5 566.5,279.5 569.5,277.5 572.5,276.5 573.5,275.5 655.5,275.5" fill="none" stroke="#000" stroke-width="1.3" stroke-linejoin="round"/>
<line x1="559.50" x2="559.50" y1="177.00" y2="289.00" stroke="#0000FF" stroke-width="3"/>
</g>
<text x="576.05" y="172.10" text-anchor="middle" font-family="Liberation Sans, Arial, sans-serif" font-weight="bold" font-size="18" fill="#fff">V(eta.v)</text>
<text x="480.00" y="271.50" text-anchor="end" font-family="Liberation Sans, Arial, sans-serif" font-size="12" fill="#808078">0.025</text>
<text x="480.00" y="241.50" text-anchor="end" font-family="Liberation Sans, Arial, sans-serif" font-size="12" fill="#808078">0.050</text>
<text x="480.00" y="211.50" text-anchor="end" font-family="Liberation Sans, Arial, sans-serif" font-size="12" fill="#808078">0.075</text>
<text x="495.34" y="307.00" text-anchor="middle" font-family="Liberation Sans, Arial, sans-serif" font-size="12" fill="#808078">0</text>
<text x="527.50" y="307.00" text-anchor="middle" font-family="Liberation Sans, Arial, sans-serif" font-size="12" fill="#808078">100</text>
<text x="559.67" y="307.00" text-anchor="middle" font-family="Liberation Sans, Arial, sans-serif" font-size="12" fill="#808078">200</text>
<text x="591.83" y="307.00" text-anchor="middle" font-family="Liberation Sans, Arial, sans-serif" font-size="12" fill="#808078">300</text>
<text x="624.00" y="307.00" text-anchor="middle" font-family="Liberation Sans, Arial, sans-serif" font-size="12" fill="#808078">400</text>
<text x="656.16" y="307.00" text-anchor="middle" font-family="Liberation Sans, Arial, sans-serif" font-size="12" fill="#808078">500</text>
<g shape-rendering="crispEdges">
<rect x="50" y="296" width="177" height="26.00" fill="#808078"/>
<line x1="50.50" x2="227.40" y1="423.50" y2="423.50" stroke="#E6E6D8" stroke-width="1"/>
<line x1="50.50" x2="227.40" y1="388.50" y2="388.50" stroke="#E6E6D8" stroke-width="1"/>
<line x1="50.50" x2="227.40" y1="353.50" y2="353.50" stroke="#E6E6D8" stroke-width="1"/>
<line x1="74.50" x2="74.50" y1="322.00" y2="434.00" stroke="#E6E6D8" stroke-width="1"/>
<line x1="106.50" x2="106.50" y1="322.00" y2="434.00" stroke="#E6E6D8" stroke-width="1"/>
<line x1="138.50" x2="138.50" y1="322.00" y2="434.00" stroke="#E6E6D8" stroke-width="1"/>
<line x1="171.50" x2="171.50" y1="322.00" y2="434.00" stroke="#E6E6D8" stroke-width="1"/>
<line x1="203.50" x2="203.50" y1="322.00" y2="434.00" stroke="#E6E6D8" stroke-width="1"/>
<line x1="50.50" x2="227.40" y1="406.50" y2="406.50" stroke="#BFBFB4" stroke-width="1"/>
<line x1="50.50" x2="227.40" y1="371.50" y2="371.50" stroke="#BFBFB4" stroke-width="1"/>
<line x1="50.50" x2="227.40" y1="336.50" y2="336.50" stroke="#BFBFB4" stroke-width="1"/>
<line x1="58.50" x2="58.50" y1="322.00" y2="434.00" stroke="#BFBFB4" stroke-width="1"/>
<line x1="90.50" x2="90.50" y1="322.00" y2="434.00" stroke="#BFBFB4" stroke-width="1"/>
<line x1="122.50" x2="122.50" y1="322.00" y2="434.00" stroke="#BFBFB4" stroke-width="1"/>
<line x1="155.50" x2="155.50" y1="322.00" y2="434.00" stroke="#BFBFB4" stroke-width="1"/>
<line x1="187.50" x2="187.50" y1="322.00" y2="434.00" stroke="#BFBFB4" stroke-width="1"/>
<line x1="219.50" x2="219.50" y1="322.00" y2="434.00" stroke="#BFBFB4" stroke-width="1"/>
<line x1="46.00" x2="50.50" y1="406.50" y2="406.50" stroke="#808078" stroke-width="1"/>
<line x1="46.00" x2="50.50" y1="371.50" y2="371.50" stroke="#808078" stroke-width="1"/>
<line x1="46.00" x2="50.50" y1="336.50" y2="336.50" stroke="#808078" stroke-width="1"/>
<line x1="58.50" x2="58.50" y1="434.00" y2="438.00" stroke="#808078" stroke-width="1"/>
<line x1="90.50" x2="90.50" y1="434.00" y2="438.00" stroke="#808078" stroke-width="1"/>
<line x1="122.50" x2="122.50" y1="434.00" y2="438.00" stroke="#808078" stroke-width="1"/>
<line x1="155.50" x2="155.50" y1="434.00" y2="438.00" stroke="#808078" stroke-width="1"/>
<line x1="187.50" x2="187.50" y1="434.00" y2="438.00" stroke="#808078" stroke-width="1"/>
<line x1="219.50" x2="219.50" y1="434.00" y2="438.00" stroke="#808078" stroke-width="1"/>
<polyline points="58.5,327.5 58.5,396.5 59.5,424.5 60.5,426.5 60.5,427.5 61.5,426.5 61.5,428.5 61.5,427.5 62.5,428.5 62.5,429.5 62.5,428.5 63.5,427.5 63.5,428.5 64.5,427.5 64.5,426.5 64.5,427.5 65.5,427.5 66.5,427.5 66.5,428.5 67.5,428.5 67.5,426.5 68.5,427.5 69.5,426.5 69.5,427.5 69.5,426.5 70.5,427.5 70.5,426.5 70.5,427.5 71.5,429.5 71.5,427.5 71.5,429.5 72.5,429.5 73.5,429.5 73.5,427.5 74.5,426.5 75.5,426.5 75.5,427.5 75.5,426.5 76.5,426.5 76.5,425.5 77.5,427.5 77.5,424.5 77.5,425.5 78.5,425.5 78.5,427.5 78.5,425.5 79.5,428.5 80.5,427.5 80.5,425.5 81.5,426.5 81.5,425.5 81.5,427.5 82.5,424.5 82.5,427.5 82.5,425.5 83.5,426.5 83.5,425.5 83.5,426.5 84.5,425.5 84.5,426.5 85.5,426.5 85.5,427.5 85.5,426.5 86.5,428.5 86.5,425.5 86.5,424.5 87.5,426.5 87.5,427.5 88.5,427.5 88.5,428.5 88.5,429.5 89.5,429.5 89.5,428.5 89.5,429.5 90.5,430.5 90.5,428.5 91.5,430.5 91.5,428.5 91.5,426.5 91.5,425.5 92.5,426.5 92.5,425.5 93.5,425.5 93.5,427.5 94.5,426.5 94.5,428.5 95.5,428.5 96.5,427.5 96.5,426.5 97.5,426.5 97.5,427.5 97.5,428.5 98.5,428.5 98.5,427.5 98.5,426.5 99.5,425.5 99.5,424.5 100.5,424.5 100.5,425.5 101.5,426.5 101.5,425.5 102.5,427.5 102.5,428.5 102.5,427.5 103.5,427.5 103.5,428.5 103.5,429.5 104.5,428.5 104.5,430.5 104.5,429.5 105.5,430.5 105.5,429.5 106.5,428.5 107.5,428.5 107.5,427.5 107.5,426.5 108.5,427.5 108.5,426.5 109.5,426.5 109.5,427.5 110.5,427.5 110.5,426.5 110.5,427.5 111.5,426.5 111.5,427.5 112.5,425.5 112.5,426.5 112.5,427.5 113.5,427.5 113.5,428.5 113.5,429.5 114.5,427.5 114.5,428.5 115.5,428.5 115.5,426.5 115.5,427.5 116.5,426.5 116.5,427.5 117.5,427.5 118.5,428.5 118.5,426.5 118.5,427.5 119.5,426.5 119.5,428.5 119.5,427.5 120.5,428.5 120.5,426.5 121.5,428.5 121.5,427.5 122.5,427.5 122.5,425.5 124.5,426.5 126.5,427.5 218.5,427.5" fill="none" stroke="#000" stroke-width="1.3" stroke-linejoin="round"/>
<line x1="122.50" x2="122.50" y1="322.00" y2="434.00" stroke="#0000FF" stroke-width="3"/>
</g>
<text x="138.95" y="317.10" text-anchor="middle" font-family="Liberation Sans, Arial, sans-serif" font-weight="bold" font-size="18" fill="#fff">add.sd</text>
<text x="42.90" y="411.50" text-anchor="end" font-family="Liberation Sans, Arial, sans-serif" font-size="12" fill="#808078">1.0</text>
<text x="42.90" y="376.50" text-anchor="end" font-family="Liberation Sans, Arial, sans-serif" font-size="12" fill="#808078">1.5</text>
<text x="42.90" y="341.50" text-anchor="end" font-family="Liberation Sans, Arial, sans-serif" font-size="12" fill="#808078">2.0</text>
<text x="58.24" y="452.00" text-anchor="middle" font-family="Liberation Sans, Arial, sans-serif" font-size="12" fill="#808078">0</text>
<text x="90.40" y="452.00" text-anchor="middle" font-family="Liberation Sans, Arial, sans-serif" font-size="12" fill="#808078">100</text>
<text x="122.57" y="452.00" text-anchor="middle" font-family="Liberation Sans, Arial, sans-serif" font-size="12" fill="#808078">200</text>
<text x="154.73" y="452.00" text-anchor="middle" font-family="Liberation Sans, Arial, sans-serif" font-size="12" fill="#808078">300</text>
<text x="186.90" y="452.00" text-anchor="middle" font-family="Liberation Sans, Arial, sans-serif" font-size="12" fill="#808078">400</text>
<text x="219.06" y="452.00" text-anchor="middle" font-family="Liberation Sans, Arial, sans-serif" font-size="12" fill="#808078">500</text>
<text x="357.2" y="471.6" text-anchor="middle" font-family="Liberation Sans, Arial, sans-serif" font-weight="bold" font-size="15.4" fill="#808078">iter</text>
<text transform="translate(21.9,233.2) rotate(-90)" text-anchor="middle" font-family="Liberation Sans, Arial, sans-serif" font-weight="bold" font-size="15.4" fill="#808078">val</text>
</svg>
</body></html>
